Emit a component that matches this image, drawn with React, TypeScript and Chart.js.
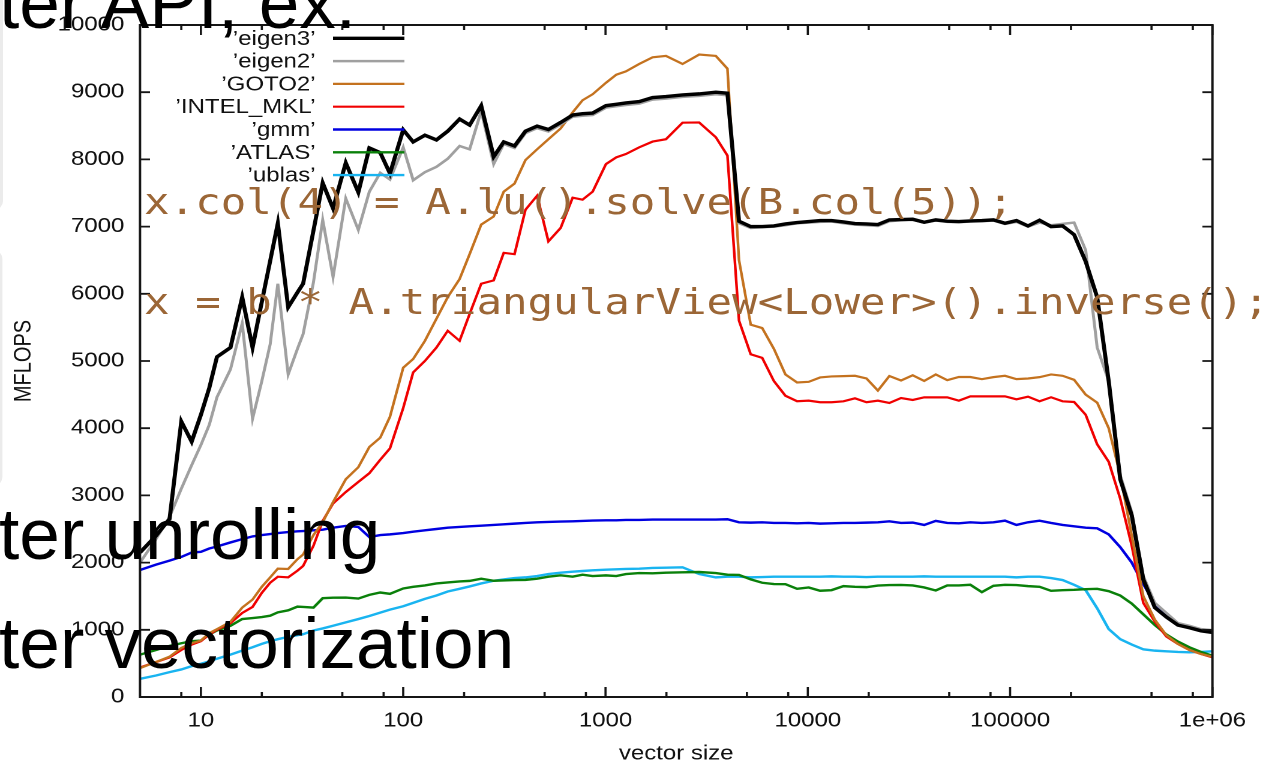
import React, { useEffect, useRef } from "react";
import { Chart, registerables } from "chart.js";

Chart.register(...registerables);

// the chart part of the slide image is stretched horizontally
const STRETCH = 1.2;
const VW = 1266 / STRETCH;
const VH = 764;

const sizes = [
  5, 6, 7, 8, 9, 10, 11, 12, 14, 16,
  18, 20, 22, 24, 27, 30, 32, 36, 40, 45,
  52, 60, 68, 77, 86, 100, 112, 128, 146, 166,
  190, 213, 243, 280, 314, 355, 402, 459, 522, 600,
  688, 770, 864, 1005, 1130, 1261, 1468, 1709, 1990, 2403,
  2904, 3510, 4006, 4570, 5221, 5950, 6800, 7750, 8850, 10100,
  11500, 13100, 15000, 17100, 19500, 22200, 25300, 28900, 33000, 37600,
  42900, 48900, 55800, 63600, 72500, 82700, 94300, 107500, 122600, 139800,
  159400, 181700, 207200, 236300, 269400, 307200, 350300, 399400, 455400, 519300,
  592100, 675200, 769900, 877900, 1000000,
];

const eigen3 = [
  2150, 2400, 2650, 4100, 3800, 4200, 4600, 5060, 5200, 5950,
  5200, 5880, 6490, 7050, 5800, 6020, 6150, 6940, 7650, 7270,
  7950, 7510, 8170, 8100, 7790, 8440, 8260, 8360, 8290, 8420,
  8600, 8510, 8800, 8040, 8260, 8200, 8420, 8495, 8445, 8550,
  8660, 8680, 8690, 8800, 8820, 8840, 8860, 8920, 8935, 8960,
  8975, 9000, 8985, 7080, 7000, 7000, 7010, 7040, 7060, 7075,
  7090, 7090, 7070, 7045, 7040, 7030, 7100, 7105, 7110, 7065,
  7100, 7080, 7075, 7085, 7090, 7100, 7050, 7090, 7010, 7095,
  7000, 7010, 6880, 6480, 5950, 4700, 3240, 2700, 1750, 1330,
  1190, 1070, 1030, 985, 960,
];

const eigen2 = [
  2000, 2350, 2680, 3100, 3450, 3750, 4050, 4460, 4875, 5560,
  4140, 4700, 5250, 6150, 4800, 5180, 5400, 6170, 7100, 6250,
  7420, 6950, 7520, 7800, 7700, 8180, 7690, 7810, 7890, 8010,
  8200, 8150, 8720, 7930, 8230, 8170, 8390, 8465, 8415, 8520,
  8635, 8650, 8660, 8770, 8790, 8810, 8830, 8890, 8905, 8930,
  8945, 8970, 8955, 7050, 6980, 6990, 7000, 7020, 7050, 7060,
  7070, 7075, 7050, 7030, 7020, 7010, 7080, 7095, 7100, 7060,
  7090, 7070, 7065, 7075, 7080, 7090, 7040, 7070, 7000, 7060,
  7020, 7040, 7060, 6650, 5200, 4700, 3300, 2750, 1800, 1400,
  1250, 1100, 1060, 1010, 990,
];

const goto2 = [
  430, 520, 600, 730, 800, 840, 950, 1010, 1120, 1330,
  1450, 1640, 1780, 1910, 1905, 2050, 2120, 2410, 2600, 2900,
  3240, 3420, 3720, 3860, 4170, 4900, 5030, 5300, 5630, 5950,
  6220, 6590, 7030, 7150, 7520, 7640, 7990, 8150, 8300, 8460,
  8700, 8880, 8970, 9140, 9260, 9310, 9420, 9520, 9540, 9420,
  9560, 9540, 9350, 6500, 5540, 5490, 5180, 4800, 4680, 4690,
  4755, 4770, 4775, 4780, 4740, 4560, 4777, 4710, 4787, 4704,
  4800, 4714, 4762, 4762, 4730, 4760, 4780, 4730, 4740, 4760,
  4800, 4780, 4720, 4500, 4380, 4000, 3300, 2400, 1500, 1150,
  920, 790, 700, 640, 600,
];

const intelMkl = [
  440, 520, 590, 700, 780, 830, 930, 1000, 1100, 1250,
  1340, 1550, 1700, 1790, 1780, 1880, 1950, 2250, 2620, 2880,
  3050, 3200, 3330, 3530, 3700, 4300, 4830, 5000, 5200, 5450,
  5300, 5700, 6150, 6200, 6610, 6590, 7250, 7460, 6780, 6980,
  7430, 7400, 7520, 7930, 8030, 8080, 8180, 8265, 8300, 8546,
  8550, 8330, 8057, 5600, 5100, 5047, 4700, 4483, 4401, 4410,
  4386, 4386, 4400, 4445, 4386, 4410, 4376, 4449, 4420, 4459,
  4459, 4459, 4410, 4474, 4474, 4474, 4474, 4430, 4469, 4401,
  4460, 4400, 4390, 4200, 3760, 3500, 2950, 2250, 1400, 1120,
  900, 790, 700, 640, 590,
];

const gmm = [
  1890, 1970, 2030, 2085, 2150, 2160, 2210, 2240, 2300, 2350,
  2390, 2410, 2425, 2440, 2455, 2465, 2470, 2480, 2490, 2520,
  2545, 2530, 2380, 2410, 2420, 2440, 2460, 2480, 2500, 2520,
  2530, 2540, 2550, 2560, 2570, 2580, 2590, 2600, 2605, 2610,
  2615, 2620, 2625, 2630, 2630, 2635, 2635, 2640, 2640, 2640,
  2640, 2640, 2645, 2600, 2595, 2600, 2590, 2590, 2585, 2590,
  2580, 2585, 2590, 2590, 2595, 2600, 2614, 2590, 2595, 2560,
  2620, 2590, 2585, 2600, 2590, 2600, 2624, 2560, 2600, 2624,
  2590, 2560, 2540, 2520, 2510, 2420, 2230, 2000, 1680, 1390,
  1220, 1090, 1040, 1000, 960,
];

const atlas = [
  630, 700, 760, 800, 830, 840, 930, 990, 1060, 1160,
  1175, 1190, 1210, 1260, 1290, 1345, 1340, 1330, 1470, 1478,
  1480, 1465, 1520, 1555, 1535, 1615, 1640, 1660, 1690, 1705,
  1720, 1728, 1760, 1730, 1735, 1740, 1743, 1760, 1790, 1810,
  1790, 1820, 1800, 1810, 1800, 1830, 1845, 1840, 1850, 1855,
  1860, 1845, 1820, 1816, 1750, 1700, 1680, 1679, 1610, 1630,
  1581, 1590, 1650, 1640, 1635, 1659, 1665, 1667, 1660, 1630,
  1585, 1660, 1660, 1670, 1560, 1655, 1669, 1665, 1650, 1640,
  1580, 1590, 1595, 1605, 1610, 1575, 1510, 1390, 1230, 1070,
  930, 825, 740, 670, 615,
];

const ublas = [
  270, 320, 370, 410, 460, 495, 530, 570, 630, 690,
  740, 790, 830, 860, 895, 920, 935, 990, 1020, 1060,
  1110, 1160, 1205, 1255, 1300, 1350, 1400, 1460, 1510, 1570,
  1610, 1645, 1690, 1730, 1750, 1770, 1780, 1800, 1830, 1850,
  1865, 1875, 1885, 1895, 1900, 1905, 1910, 1920, 1925, 1930,
  1830, 1780, 1790, 1790, 1780, 1785, 1790, 1790, 1790, 1790,
  1790, 1795, 1790, 1790, 1785, 1790, 1790, 1790, 1790, 1795,
  1790, 1790, 1790, 1790, 1790, 1790, 1790, 1780, 1790, 1790,
  1770, 1740, 1670, 1590, 1320, 1010, 860, 780, 710, 690,
  680, 670, 665, 670, 680,
];

const seriesLabels = ["\u2019eigen3\u2019", "\u2019eigen2\u2019", "\u2019GOTO2\u2019", "\u2019INTEL_MKL\u2019", "\u2019gmm\u2019", "\u2019ATLAS\u2019", "\u2019ublas\u2019"];
const seriesValues = [eigen3, eigen2, goto2, intelMkl, gmm, atlas, ublas];
const seriesColors = ["#000000", "#a0a0a0", "#c4721f", "#f00000", "#0000e0", "#0a800a", "#19b4f0"];
const seriesWidths = [3.4, 2.5, 2.2, 2.2, 2.4, 2.4, 2.4];

const xMajorTicks = [10, 100, 1000, 10000, 100000, 1000000];
const xMinorTicks = [8, 20, 50, 80, 200, 500, 800, 2000, 5000, 8000, 20000, 50000, 80000, 200000, 500000, 800000];
const xTickLabels = ["10", "100", "1000", "10000", "100000", "1e+06"];
const yTickValues = [0, 1000, 2000, 3000, 4000, 5000, 6000, 7000, 8000, 9000, 10000];

const xTitle = "vector size";
const yTitle = "MFLOPS";

const codeLines = [
  "x.col(4) = A.lu().solve(B.col(5));",
  "x = b * A.triangularView<Lower>().inverse();",
];
const slideLines = ["ter API, ex.", "ter unrolling", "ter vectorization"];

const FONT = "'Liberation Sans', Arial, Helvetica, sans-serif";

const gnuplotFrame = {
  id: "gnuplotFrame",
  afterDatasetsDraw(chart: any) {
    const { ctx, chartArea, scales } = chart;
    const { left, right, top, bottom } = chartArea;
    const xs = scales.x;
    const ys = scales.y;
    ctx.save();
    ctx.strokeStyle = "#151515";
    ctx.lineWidth = 1.8;
    ctx.beginPath();
    for (const t of xs.ticks) {
      const px = xs.getPixelForValue(t.value);
      const len = xMajorTicks.includes(t.value) ? 10 : 5;
      ctx.moveTo(px, bottom);
      ctx.lineTo(px, bottom - len);
      ctx.moveTo(px, top);
      ctx.lineTo(px, top + len);
    }
    for (const t of ys.ticks) {
      const py = ys.getPixelForValue(t.value);
      ctx.moveTo(left, py);
      ctx.lineTo(left + 10 / STRETCH, py);
      ctx.moveTo(right, py);
      ctx.lineTo(right - 10 / STRETCH, py);
    }
    ctx.stroke();
    ctx.lineWidth = 2;
    ctx.strokeRect(left, top, right - left, bottom - top);

    // gnuplot style key
    const textRight = 263;
    const lineX0 = 277.5;
    const lineX1 = 337;
    const y0 = 38.3;
    const dy = 22.8;
    ctx.font = `20px ${FONT}`;
    ctx.textAlign = "right";
    ctx.textBaseline = "middle";
    chart.data.datasets.forEach((ds: any, i: number) => {
      const y = y0 + i * dy;
      ctx.fillStyle = "#111";
      ctx.fillText(ds.label, textRight, y + 1);
      ctx.strokeStyle = ds.borderColor;
      ctx.lineWidth = ds.borderWidth;
      ctx.beginPath();
      ctx.moveTo(lineX0, y);
      ctx.lineTo(lineX1, y);
      ctx.stroke();
    });
    ctx.restore();
  },
};

export default function App() {
  const canvasRef = useRef<HTMLCanvasElement>(null);

  useEffect(() => {
    const datasets = seriesLabels.map((label, i) => ({
      label,
      data: sizes.map((x, j) => ({ x, y: seriesValues[i][j] })),
      borderColor: seriesColors[i],
      backgroundColor: seriesColors[i],
      borderWidth: seriesWidths[i],
      pointRadius: 0,
      tension: 0,
      fill: false,
    }));

    const chart = new Chart(canvasRef.current as HTMLCanvasElement, {
      type: "line",
      data: { datasets },
      options: {
        responsive: false,
        animation: false,
        devicePixelRatio: 2,
        layout: { padding: { left: 0, top: 16, right: VW - 1212.4 / STRETCH, bottom: 0 } },
        plugins: { legend: { display: false }, tooltip: { enabled: false } },
        scales: {
          x: {
            type: "logarithmic",
            position: "bottom",
            min: 5,
            max: 1000000,
            grid: { display: false, drawTicks: false },
            border: { display: false },
            afterBuildTicks: (scale: any) => {
              const vals = [...xMajorTicks, ...xMinorTicks].sort((a, b) => a - b);
              scale.ticks = vals.map((v) => ({ value: v, major: xMajorTicks.includes(v) }));
            },
            afterFit: (scale: any) => {
              scale.height = VH - 697;
            },
            ticks: {
              autoSkip: false,
              maxRotation: 0,
              minRotation: 0,
              padding: 12,
              color: "#111",
              font: { family: FONT, size: 20 },
              callback: (value: any) => {
                const k = xMajorTicks.indexOf(Number(value));
                return k >= 0 ? xTickLabels[k] : "";
              },
            },
            title: {
              display: true,
              text: xTitle,
              color: "#111",
              font: { family: FONT, size: 20 },
              padding: { top: 0, bottom: -2 },
            },
          },
          y: {
            type: "linear",
            position: "left",
            min: 0,
            max: 10000,
            grid: { display: false, drawTicks: false },
            border: { display: false },
            afterBuildTicks: (scale: any) => {
              scale.ticks = yTickValues.map((v) => ({ value: v }));
            },
            afterFit: (scale: any) => {
              scale.width = 140 / STRETCH;
            },
            ticks: {
              padding: 13,
              color: "#111",
              font: { family: FONT, size: 20 },
              callback: (value: any) => String(value),
            },
            title: {
              display: true,
              text: yTitle,
              color: "#111",
              font: { family: FONT, size: 20 },
              padding: { top: 8, bottom: 0 },
            },
          },
        },
      },
      plugins: [gnuplotFrame],
    } as any);

    return () => chart.destroy();
  }, []);

  return (
    <div
      style={{
        position: "absolute",
        left: 0,
        top: 0,
        width: 1266,
        height: 764,
        overflow: "hidden",
        background: "#ffffff",
      }}
    >
      <div
        style={{
          position: "absolute",
          left: 0,
          top: 0,
          width: VW,
          height: VH,
          transform: `scaleX(${STRETCH})`,
          transformOrigin: "0 0",
        }}
      >
        <svg
          width={VW}
          height={VH}
          style={{ position: "absolute", left: 0, top: 0 }}
        >
          <rect x={-12} y={-12} width={14.5} height={222} rx={9} fill="#ebebeb" />
          <rect x={-12} y={250} width={14} height={236} rx={9} fill="#ebebeb" />
        </svg>
        <canvas
          ref={canvasRef}
          width={VW}
          height={VH}
          style={{ position: "absolute", left: 0, top: 0 }}
        />
        <svg
          width={VW}
          height={VH}
          style={{ position: "absolute", left: 0, top: 0, overflow: "visible" }}
        >
          <g fontFamily="'DejaVu Sans Mono', monospace" fontSize={35.4} fill="#9b6636">
            <text x={120} y={214}>{codeLines[0]}</text>
            <text x={120} y={314}>{codeLines[1]}</text>
          </g>
        </svg>
      </div>
      <svg
        width={1266}
        height={764}
        style={{ position: "absolute", left: 0, top: 0 }}
      >
        <g fontFamily={FONT} fontSize={73} fill="#000000">
          <text x={-1} y={28}>{slideLines[0]}</text>
          <text x={-1} y={559}>{slideLines[1]}</text>
          <text x={-1} y={668}>{slideLines[2]}</text>
        </g>
      </svg>
    </div>
  );
}
